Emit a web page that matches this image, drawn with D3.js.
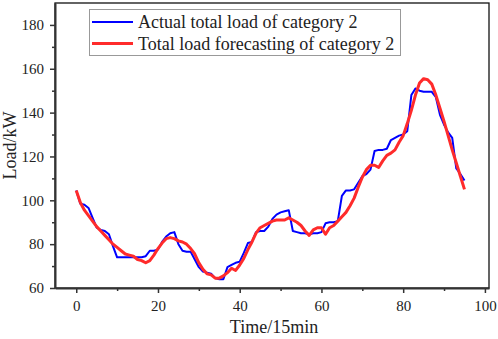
<!DOCTYPE html>
<html>
<head>
<meta charset="utf-8">
<script src="https://cdn.jsdelivr.net/npm/d3@7"></script>
<style>
	body { margin: 0; background: #fff; }
	text { font-family: "Liberation Serif", "Times New Roman", serif; fill: #222; }
</style>
</head>
<body>
<div class="chart"></div>
<script>
// time steps (15 min each) and the two load series
var steps = d3.range(0, 96);

var actualLoad = [
	104.5, 98.5, 98, 96.5, 92, 87.5, 86.5, 86, 84.5, 79,
	74, 74, 74, 74, 74, 74, 74, 74.5, 77, 77,
	77.5, 81, 83.5, 85, 85.5, 80, 77, 76.5, 76.5, 73,
	69.5, 67.5, 67, 66.5, 64.5, 64, 64, 69.5, 70.5, 71.5,
	72, 76, 80.5, 81, 85.5, 86, 86, 88, 91.5, 93.5,
	94.5, 95, 95.5, 86, 85.5, 85, 85, 84.5, 85, 85,
	85.5, 89.5, 90, 90, 90.5, 102, 104.5, 104.5, 105, 108,
	111, 112, 114, 122.5, 123, 123, 123.5, 127.5, 128.5, 129.5,
	130, 131.5, 148, 151, 150, 149.5, 149.5, 149.5, 147, 139,
	134.5, 131, 128.5, 114.5, 112, 109
];

var forecastLoad = [
	104.5, 99, 95.5, 93, 90.5, 88, 86, 84, 82, 80,
	78.5, 77, 75.5, 75, 74.5, 73, 72.5, 71.5, 72.5, 75,
	78, 80.5, 82.5, 83, 82.5, 81.5, 81, 80, 78, 75.5,
	71.5, 68.5, 66.5, 66, 64.5, 64.5, 65.5, 67, 69, 68,
	70.5, 73.5, 77.5, 81, 85, 87.5, 88.5, 89.5, 90.5, 91,
	91, 91, 92, 91, 90, 88.5, 86, 84, 86.5, 87.5,
	87.5, 84.5, 87.5, 88.5, 90.5, 92.5, 94.5, 97.5, 101, 106,
	110.5, 114, 116, 116, 115, 118, 120.5, 121.5, 123, 126.5,
	129.5, 135, 141, 148, 153.5, 155.5, 155, 153, 148, 142,
	136, 129.5, 123, 117, 111, 105
];

var seriesNames = ["Actual total load of category 2", "Total load forecasting of category 2"];
var seriesColors = ["#0000ff", "#ff2b2b"];

var xTicks = [0, 20, 40, 60, 80, 100];
var yTicks = [60, 80, 100, 120, 140, 160, 180];

var width = 498, height = 339;
var margin = { top: 3, right: 9, bottom: 51, left: 55 };

var svg = d3.select('.chart')
	.append('svg')
	.attr('width', width)
	.attr('height', height);

var x = d3.scaleLinear()
	.domain([-5.2, 101])
	.range([margin.left, width - margin.right]);

var y = d3.scaleLinear()
	.domain([60, 190])
	.range([height - margin.bottom, margin.top]);

// minor ticks sit between the labelled ones
var xMinor = d3.range(10, 100, 20);
var yMinor = d3.range(70, 190, 20);

// frame on the top and right
svg.append('rect')
	.attr('x', x.range()[0])
	.attr('y', y.range()[1])
	.attr('width', x.range()[1] - x.range()[0])
	.attr('height', y.range()[0] - y.range()[1])
	.attr('fill', 'none')
	.attr('stroke', '#111')
	.attr('stroke-width', 1.3);

// bottom axis
svg.append('g')
	.attr('transform', 'translate(0,' + y.range()[0] + ')')
	.call(d3.axisBottom(x).tickValues(xTicks).tickSize(5).tickPadding(7).tickSizeOuter(0));
svg.append('g')
	.attr('transform', 'translate(0,' + y.range()[0] + ')')
	.call(d3.axisBottom(x).tickValues(xMinor).tickSize(3).tickFormat('').tickSizeOuter(0))
	.select('.domain').remove();

// left axis
svg.append('g')
	.attr('transform', 'translate(' + x.range()[0] + ',0)')
	.call(d3.axisLeft(y).tickValues(yTicks).tickSize(5).tickPadding(6).tickSizeOuter(0));
svg.append('g')
	.attr('transform', 'translate(' + x.range()[0] + ',0)')
	.call(d3.axisLeft(y).tickValues(yMinor).tickSize(3).tickFormat('').tickSizeOuter(0))
	.select('.domain').remove();

svg.selectAll('.domain').attr('stroke', '#333').attr('stroke-width', 2);
svg.selectAll('.tick line').attr('stroke', '#333').attr('stroke-width', 1.5);
svg.selectAll('.tick text')
	.style('font-family', '"Liberation Serif", serif')
	.style('font-size', '15px')
	.attr('fill', '#222');

// axis titles
svg.append('text')
	.attr('x', 274)
	.attr('y', 333)
	.attr('text-anchor', 'middle')
	.style('font-size', '18px')
	.text('Time/15min');

svg.append('text')
	.attr('transform', 'translate(16,' + y(125) + ') rotate(-90)')
	.attr('text-anchor', 'middle')
	.style('font-size', '18px')
	.text('Load/kW');

// the two load lines, forecast on top
var line = d3.line()
	.x(function(d, i) { return x(steps[i]); })
	.y(function(d) { return y(d); });

svg.append('path')
	.datum(actualLoad)
	.attr('fill', 'none')
	.attr('stroke', seriesColors[0])
	.attr('stroke-width', 2)
	.attr('stroke-linejoin', 'round')
	.attr('d', line);

svg.append('path')
	.datum(forecastLoad)
	.attr('fill', 'none')
	.attr('stroke', seriesColors[1])
	.attr('stroke-width', 3)
	.attr('stroke-linejoin', 'round')
	.attr('d', line);

// legend box
var legend = svg.append('g');
legend.append('rect')
	.attr('x', 89.5)
	.attr('y', 9.5)
	.attr('width', 311)
	.attr('height', 46)
	.attr('fill', '#fff')
	.attr('stroke', '#999')
	.attr('stroke-width', 1);

for (var i = 0; i < seriesNames.length; i++) {
	var ly = 22 + i * 21.5;
	legend.append('line')
		.attr('x1', 92)
		.attr('x2', 133)
		.attr('y1', ly)
		.attr('y2', ly)
		.attr('stroke', seriesColors[i])
		.attr('stroke-width', i == 0 ? 2 : 3);
	legend.append('text')
		.attr('x', 138)
		.attr('y', ly)
		.attr('dy', '.35em')
		.style('font-size', '18px')
		.text(seriesNames[i]);
}
</script>
</body>
</html>
